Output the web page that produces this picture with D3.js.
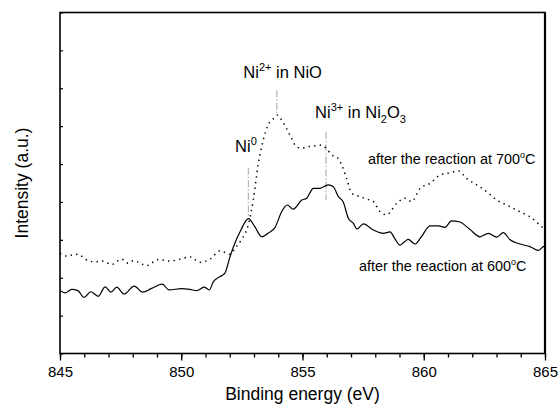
<!DOCTYPE html>
<html><head><meta charset="utf-8">
<script src="https://cdn.jsdelivr.net/npm/d3@7"></script>
<style>
html,body{margin:0;padding:0;background:#fff;}
svg{display:block;font-family:"Liberation Sans",Arial,sans-serif;}
</style></head>
<body><svg id="c" width="558" height="407"></svg>
<script>
// Binding energy (eV) and intensity (a.u.) after reaction at 600 °C (solid)
const energy600 = [845.00,845.21,845.48,845.74,845.99,846.27,846.58,846.86,847.10,847.34,847.64,848.06,848.41,848.78,849.22,849.49,850.02,850.36,850.64,850.94,851.16,851.32,851.47,851.68,851.80,852.01,852.15,852.46,852.77,853.04,853.32,853.59,853.87,854.14,854.37,854.62,854.97,855.17,855.45,855.72,856.06,856.27,856.48,856.68,856.89,857.09,857.25,857.51,857.92,858.33,858.61,858.80,859.02,859.19,859.36,859.64,859.89,860.26,860.60,860.88,861.14,861.49,861.91,862.32,862.66,863.01,863.28,863.56,863.97,864.38,864.72,864.93,865.00];
const intensity600 = [1.66,1.60,1.69,1.66,1.48,1.63,1.51,1.76,1.62,1.75,1.57,1.78,1.62,1.72,1.83,1.68,1.71,1.69,1.66,1.75,1.68,1.89,1.98,2.06,2.12,2.55,2.81,3.26,3.56,3.34,3.08,3.18,3.33,3.74,3.92,3.81,4.05,4.10,4.36,4.36,4.45,4.40,4.14,4.00,3.57,3.44,3.29,3.42,3.26,3.17,3.21,3.04,2.86,2.94,3.01,2.89,3.07,3.37,3.37,3.33,3.50,3.47,3.27,3.08,3.17,3.07,3.19,3.00,2.89,2.82,2.72,2.82,2.84];
// after reaction at 700 °C (dotted)
const energy700 = [845.00,845.28,845.62,845.82,846.03,846.44,846.72,847.13,847.54,847.82,848.02,848.58,849.05,849.54,849.95,850.36,850.77,851.19,851.60,852.01,852.22,852.49,852.76,852.97,853.18,853.38,853.58,853.82,853.96,854.14,854.35,854.55,854.76,854.97,855.24,855.52,855.79,855.97,856.21,856.44,856.62,856.82,857.03,857.37,857.62,857.92,858.20,858.47,858.88,859.23,859.50,859.85,860.26,860.67,861.08,861.43,861.77,862.18,862.60,863.01,863.42,863.97,864.38,864.79,865.00];
const intensity700 = [2.64,2.57,2.62,2.60,2.49,2.42,2.44,2.35,2.49,2.38,2.45,2.32,2.48,2.44,2.49,2.55,2.41,2.49,2.71,2.62,2.78,3.01,3.39,4.05,5.02,5.63,6.03,6.21,6.29,6.16,5.93,5.68,5.45,5.42,5.46,5.48,5.50,5.42,5.24,5.17,4.97,4.62,4.23,4.14,4.08,4.01,3.74,3.66,3.96,4.10,4.01,4.36,4.49,4.71,4.77,4.82,4.62,4.45,4.27,4.05,3.92,3.74,3.61,3.39,3.27];
// peak markers
const markerNames = ["Ni0","Ni2+","Ni3+"];
const markerEnergy = [852.77,853.94,855.97];
const markerTop = [4.90,6.95,5.85];
const markerBottom = [3.58,6.29,4.05];
const xTickLabels = [845,850,855,860,865];
const xMinorTicks = d3.range(845,866,1);
const yTicks = d3.range(0,10,1);

const svg = d3.select("#c");
const L=60,R=545,T=12.5,B=353.5;
const x = d3.scaleLinear().domain([845,865]).range([L,R]);
const y = d3.scaleLinear().domain([0,9]).range([B,T]);

// x ticks (outward)
svg.append("g").attr("transform",`translate(0,${B})`)
  .call(d3.axisBottom(x).tickValues(xMinorTicks).tickSize(4).tickFormat(""))
  .call(g=>g.select(".domain").remove())
  .call(g=>g.selectAll("line").attr("stroke","#000").attr("stroke-width",1.3));
svg.append("g").attr("transform",`translate(0,${B})`)
  .call(d3.axisBottom(x).tickValues(xTickLabels).tickSize(7).tickPadding(6).tickFormat(d3.format("d")))
  .call(g=>g.select(".domain").remove())
  .call(g=>g.selectAll("line").attr("stroke","#000").attr("stroke-width",1.3))
  .call(g=>g.selectAll("text").attr("font-size",15).attr("fill","#000").attr("font-family","Liberation Sans, Arial, sans-serif"));
// y ticks (inward)
svg.append("g").attr("transform",`translate(${L},0)`)
  .call(d3.axisRight(y).tickValues(yTicks).tickSize(3).tickFormat(""))
  .call(g=>g.select(".domain").remove())
  .call(g=>g.selectAll("line").attr("stroke","#000").attr("stroke-width",1.2));

// frame
svg.append("rect").attr("x",L).attr("y",T).attr("width",R-L).attr("height",B-T)
  .attr("fill","none").attr("stroke","#000").attr("stroke-width",1.6);
svg.append("line").attr("x1",R).attr("x2",R).attr("y1",T).attr("y2",B).attr("stroke","#000").attr("stroke-width",2.2);

// markers
markerEnergy.forEach((e,i)=>{
  svg.append("line").attr("x1",x(e)).attr("x2",x(e)).attr("y1",y(markerTop[i])).attr("y2",y(markerBottom[i]))
    .attr("stroke","#b8b8b8").attr("stroke-width",1.3).attr("stroke-dasharray","7,2,1.5,2");
});

const line = d3.line().x(d=>x(d[0])).y(d=>y(d[1])).curve(d3.curveMonotoneX);
svg.append("path").datum(d3.zip(energy600,intensity600)).attr("d",line)
  .attr("fill","none").attr("stroke","#000").attr("stroke-width",1.2);
svg.append("path").datum(d3.zip(energy700,intensity700)).attr("d",line)
  .attr("fill","none").attr("stroke","#000").attr("stroke-width",1.5).attr("stroke-dasharray","1.4,4.2");

// annotations
function ion(xv,yv,parts){
  const t = svg.append("text").attr("x",x(xv)).attr("y",y(yv)).attr("font-size",16.5).attr("fill","#000");
  parts.forEach(p=>{
    const s = t.append("tspan").text(p[0]);
    if(p[1]==="sup") s.attr("font-size",11).attr("dy",-7);
    if(p[1]==="sub") s.attr("font-size",11).attr("dy",5);
    if(p[1]==="reset-sup") s.attr("dy",7);
    if(p[1]==="reset-sub") s.attr("dy",-5);
  });
}
ion(852.22,5.31,[["Ni"],["0","sup"]]);
ion(852.56,7.28,[["Ni"],["2+","sup"],[" in NiO","reset-sup"]]);
ion(855.52,6.22,[["Ni"],["3+","sup"],[" in Ni","reset-sup"],["2","sub"],["O","reset-sub"],["3","sub"]]);

function note(xv,yv,temp){
  const t = svg.append("text").attr("x",x(xv)).attr("y",y(yv)).attr("font-size",14.4).attr("fill","#000");
  t.append("tspan").text("after the reaction at "+temp);
  t.append("tspan").text("o").attr("font-size",9).attr("dy",-6);
  t.append("tspan").text("C").attr("dy",6);
}
note(857.70,5.0,"700");
note(857.33,2.18,"600");

// axis titles
svg.append("text").attr("x",(L+R)/2).attr("y",400).attr("text-anchor","middle")
  .attr("font-size",17.5).text("Binding energy (eV)");
svg.append("text").attr("transform",`translate(28,${(T+B)/2}) rotate(-90)`).attr("text-anchor","middle")
  .attr("font-size",17.5).text("Intensity (a.u.)");
</script></body></html>
